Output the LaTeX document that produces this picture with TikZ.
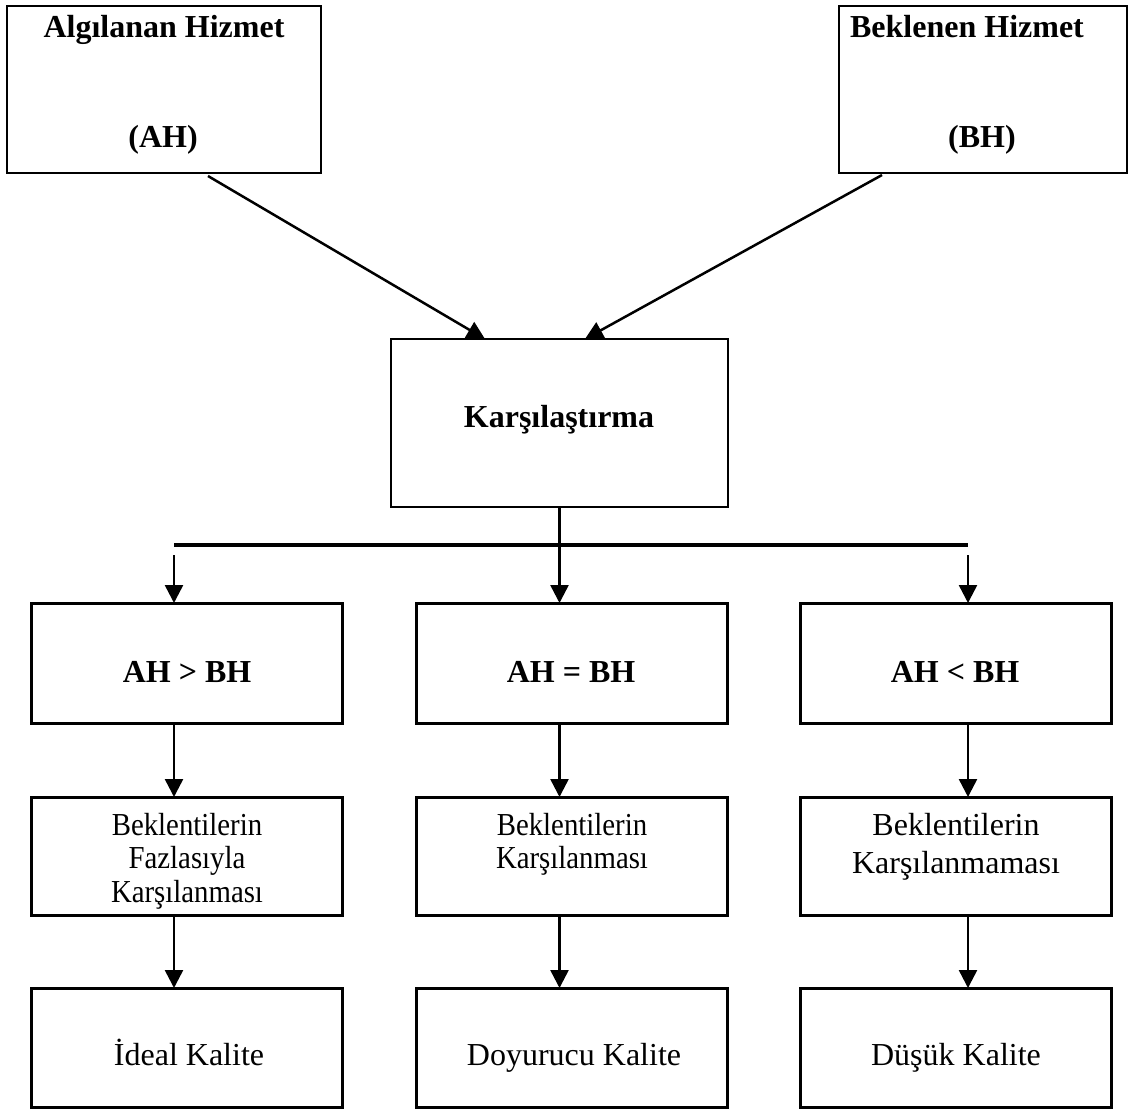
\documentclass[tikz,border=0pt]{standalone}
\usepackage{fontspec}
\setmainfont{Liberation Serif}
\newfontfamily\condserif[FakeStretch=0.9]{Liberation Serif}
\usetikzlibrary{arrows.meta}
\begin{document}
\begin{tikzpicture}[x=1pt,y=-1pt,
  box/.style={draw=black, rectangle, inner sep=0pt, outer sep=0pt},
  thinbox/.style={box, line width=1.5pt},
  midbox/.style={box, line width=2pt},
  thickbox/.style={box, line width=3pt, minimum width=311pt},
  btxt/.style={font=\fontsize{32}{38}\selectfont\bfseries, anchor=base, inner sep=0pt},
  rtxt/.style={font=\fontsize{32}{38}\selectfont, anchor=base, inner sep=0pt},
  ctxt/.style={font=\condserif\fontsize{32}{38}\selectfont, anchor=base, inner sep=0pt},
  arr/.style={line width=2.5pt, -{Triangle[width=18pt,length=18pt]}},
  bar/.style={line width=3.5pt},
]
\useasboundingbox (0,0) rectangle (1129,1109);
\fill[white] (0,0) rectangle (1129,1109);

% top boxes
\node[thinbox, minimum width=314pt, minimum height=167pt] (AH) at (164,89.5) {};
\node[thinbox, minimum width=288pt, minimum height=167pt] (BH) at (983,89.5) {};
\node[btxt] (AHt1) at (164,37) {Algılanan Hizmet};
\node[btxt] (AHt2) at (163,147) {(AH)};
\node[btxt] (BHt1) at (967,37) {Beklenen Hizmet};
\node[btxt] (BHt2) at (982,147) {(BH)};

% comparison box
\node[midbox, minimum width=337pt, minimum height=168pt] (K) at (559.5,423) {};
\node[btxt] (Kt) at (559,427) {Karşılaştırma};

% row 1
\node[thickbox, minimum height=120pt] (L1) at (187,663) {};
\node[thickbox, minimum height=120pt] (M1) at (572,663) {};
\node[thickbox, minimum height=120pt] (R1) at (956,663) {};
\node[btxt] (L1t) at (187,682) {AH > BH};
\node[btxt] (M1t) at (571,682) {AH = BH};
\node[btxt] (R1t) at (955,682) {AH < BH};

% row 2
\node[thickbox, minimum height=118pt] (L2) at (187,856) {};
\node[thickbox, minimum height=118pt] (M2) at (572,856) {};
\node[thickbox, minimum height=118pt] (R2) at (956,856) {};
\node[ctxt] (L2a) at (187,835) {Beklentilerin};
\node[ctxt] (L2b) at (187,868) {Fazlasıyla};
\node[ctxt] (L2c) at (187,902) {Karşılanması};
\node[ctxt] (M2a) at (572,835) {Beklentilerin};
\node[ctxt] (M2b) at (572,868) {Karşılanması};
\node[rtxt] (R2a) at (956,835) {Beklentilerin};
\node[rtxt] (R2b) at (956,873) {Karşılanmaması};

% row 3
\node[thickbox, minimum height=119pt] (L3) at (187,1047.5) {};
\node[thickbox, minimum height=119pt] (M3) at (572,1047.5) {};
\node[thickbox, minimum height=119pt] (R3) at (956,1047.5) {};
\node[rtxt] (L3t) at (189,1065) {İdeal Kalite};
\node[rtxt] (M3t) at (574,1065) {Doyurucu Kalite};
\node[rtxt] (R3t) at (956,1065) {Düşük Kalite};

% diagonal arrows
\coordinate (ahs) at (208,176);
\coordinate (bhs) at (882,175);
\coordinate (kt1) at (485,339);
\coordinate (kt2) at (585,339);
\draw[arr] (ahs) -- (kt1);
\draw[arr] (bhs) -- (kt2);

% distribution bar
\coordinate (bl) at (174,545);
\coordinate (br) at (968,545);
\draw[bar] (bl) -- (br);
\draw[line width=2.5pt] (K.south) -- (K.south |- bl);
\coordinate (d1) at (174,555);
\coordinate (d3) at (968,555);
\draw[arr] (d1) -- (d1 |- L1.north);
\draw[arr] (K.south |- bl) -- (K.south |- M1.north);
\draw[arr] (d3) -- (d3 |- R1.north);

% row connectors
\draw[arr] (d1 |- L1.south) -- (d1 |- L2.north);
\draw[arr] (K.south |- M1.south) -- (K.south |- M2.north);
\draw[arr] (d3 |- R1.south) -- (d3 |- R2.north);
\draw[arr] (d1 |- L2.south) -- (d1 |- L3.north);
\draw[arr] (K.south |- M2.south) -- (K.south |- M3.north);
\draw[arr] (d3 |- R2.south) -- (d3 |- R3.north);
\end{tikzpicture}
\end{document}
